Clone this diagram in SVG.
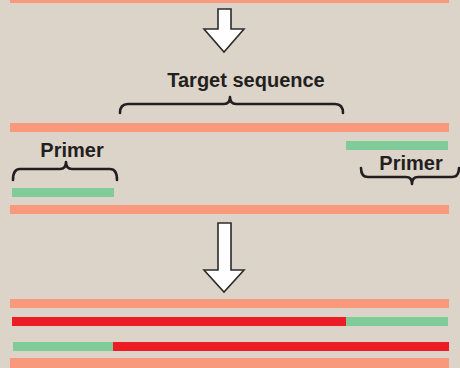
<svg xmlns="http://www.w3.org/2000/svg" width="460" height="368" viewBox="0 0 460 368">
<style>
.salmon{fill:#f7997a}
.green{fill:#7fcc98}
.red{fill:#ed1c24}
.arrow{fill:#ffffff;stroke:#2b2b2b;stroke-width:1.6;stroke-linejoin:miter}
.brace{fill:none;stroke:#231f20;stroke-width:2.6;stroke-linecap:round;stroke-linejoin:round}
.lbl{font-family:"Liberation Sans",Arial,sans-serif;font-weight:bold;font-size:20px;fill:#231f20}
</style>
<rect width="460" height="368" fill="#dcd3c9"/>
<g id="strand-top"><rect class="salmon" x="10" y="-6" width="439" height="9"/></g>
<g id="connectors">
<polygon class="arrow" points="218,9 231,9 231,29 244,29 224,52 204,29 218,29"/>
<polygon class="arrow" points="218,223 231,223 231,270 244,270 224,292 204,270 218,270"/>
</g>
<g id="target-label">
<text class="lbl" x="246" y="87" text-anchor="middle" font-size="20.5">Target sequence</text>
<path class="brace" d="M120,113 Q120,104 128,104 L224,104 Q230,104 230,97 Q230,104 236,104 L335,104 Q343,104 343,113"/>
</g>
<g id="strand-2"><rect class="salmon" x="10" y="123" width="439" height="9"/></g>
<g id="primer-right-bar"><rect class="green" x="346" y="141" width="102" height="9"/></g>
<g id="primer-left">
<text class="lbl" x="72" y="157" text-anchor="middle">Primer</text>
<path class="brace" d="M13,180 Q13,169 20,169 L60,169 Q66,169 66,162 Q66,169 72,169 L110,169 Q117,169 117,180"/>
</g>
<g id="primer-left-bar"><rect class="green" x="12" y="188" width="102" height="9"/></g>
<g id="primer-right">
<text class="lbl" x="411" y="170" text-anchor="middle">Primer</text>
<path class="brace" d="M361,168 Q361,177 368,177 L406,177 Q412,177 412,184 Q412,177 418,177 L452,177 Q459,177 459,168"/>
</g>
<g id="strand-3"><rect class="salmon" x="10" y="205" width="439" height="9"/></g>
<g id="strand-4"><rect class="salmon" x="10" y="299" width="439" height="9"/></g>
<g id="strand-5">
<rect class="red" x="12" y="317" width="334" height="9"/>
<rect class="green" x="346" y="317" width="102" height="9"/>
</g>
<g id="strand-6">
<rect class="green" x="13" y="342" width="100" height="9"/>
<rect class="red" x="113" y="342" width="336" height="9"/>
</g>
<g id="strand-7"><rect class="salmon" x="10" y="358" width="439" height="12"/></g>
</svg>
